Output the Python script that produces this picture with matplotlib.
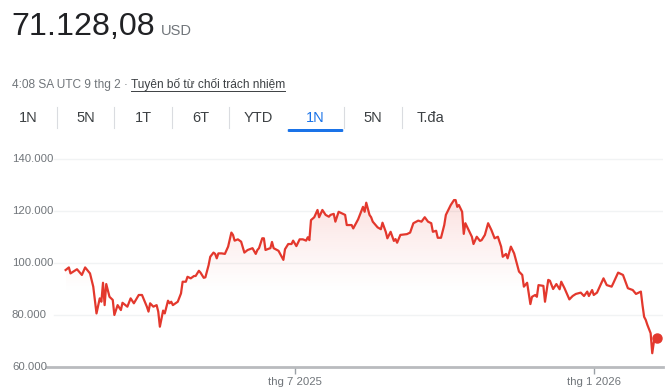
"""
Biểu đồ giá 1 năm (kiểu Google Finance) bằng matplotlib
"""

import matplotlib
matplotlib.use("Agg")
import matplotlib.pyplot as plt
import matplotlib.dates as mdates
import matplotlib.transforms as mtransforms
from matplotlib.patches import FancyBboxPatch
import numpy as np
import pandas as pd

plt.rcParams['font.family'] = ['Liberation Sans', 'DejaVu Sans']

# ---- dữ liệu ----
price_label = "71.128,08"
currency = "USD"
timestamp = "4:08 SA UTC 9 thg 2 · "
disclaimer = "Tuyên bố từ chối trách nhiệm"
tabs = ["1N", "5N", "1T", "6T", "YTD", "1N", "5N", "T.đa"]
active_tab = 5

dates = [
    "2025-02-10", "2025-02-12", "2025-02-13", "2025-02-17", "2025-02-20", "2025-02-22",
    "2025-02-25", "2025-02-27", "2025-03-01", "2025-03-03", "2025-03-04", "2025-03-05",
    "2025-03-06", "2025-03-07", "2025-03-09", "2025-03-11", "2025-03-12", "2025-03-14",
    "2025-03-16", "2025-03-17", "2025-03-20", "2025-03-22", "2025-03-24", "2025-03-27",
    "2025-03-29", "2025-04-01", "2025-04-02", "2025-04-03", "2025-04-05", "2025-04-07",
    "2025-04-08", "2025-04-09", "2025-04-11", "2025-04-12", "2025-04-14", "2025-04-15",
    "2025-04-16", "2025-04-17", "2025-04-20", "2025-04-22", "2025-04-23", "2025-04-25",
    "2025-04-26", "2025-04-28", "2025-04-30", "2025-05-01", "2025-05-03", "2025-05-04",
    "2025-05-06", "2025-05-07", "2025-05-09", "2025-05-10", "2025-05-12", "2025-05-13",
    "2025-05-14", "2025-05-15", "2025-05-17", "2025-05-19", "2025-05-21", "2025-05-23",
    "2025-05-24", "2025-05-25", "2025-05-27", "2025-05-29", "2025-05-31", "2025-06-02",
    "2025-06-05", "2025-06-07", "2025-06-08", "2025-06-09", "2025-06-11", "2025-06-12",
    "2025-06-13", "2025-06-15", "2025-06-16", "2025-06-17", "2025-06-18", "2025-06-21",
    "2025-06-24", "2025-06-25", "2025-06-27", "2025-06-29", "2025-06-30", "2025-07-02",
    "2025-07-04", "2025-07-06", "2025-07-08", "2025-07-09", "2025-07-10", "2025-07-11",
    "2025-07-13", "2025-07-15", "2025-07-16", "2025-07-18", "2025-07-20", "2025-07-22",
    "2025-07-23", "2025-07-25", "2025-07-26", "2025-07-28", "2025-08-01", "2025-08-02",
    "2025-08-05", "2025-08-06", "2025-08-09", "2025-08-12", "2025-08-13", "2025-08-14",
    "2025-08-16", "2025-08-17", "2025-08-18", "2025-08-21", "2025-08-23", "2025-08-24",
    "2025-08-26", "2025-08-27", "2025-08-29", "2025-08-31", "2025-09-01", "2025-09-02",
    "2025-09-04", "2025-09-08", "2025-09-10", "2025-09-12", "2025-09-15", "2025-09-17",
    "2025-09-19", "2025-09-21", "2025-09-23", "2025-09-24", "2025-09-26", "2025-09-27",
    "2025-09-29", "2025-10-01", "2025-10-02", "2025-10-05", "2025-10-07", "2025-10-08",
    "2025-10-09", "2025-10-10", "2025-10-12", "2025-10-13", "2025-10-14", "2025-10-16",
    "2025-10-18", "2025-10-19", "2025-10-21", "2025-10-23", "2025-10-24", "2025-10-26",
    "2025-10-28", "2025-10-30", "2025-11-01", "2025-11-03", "2025-11-05", "2025-11-06",
    "2025-11-08", "2025-11-09", "2025-11-11", "2025-11-13", "2025-11-16", "2025-11-18",
    "2025-11-19", "2025-11-21", "2025-11-23", "2025-11-24", "2025-11-26", "2025-11-27",
    "2025-11-28", "2025-12-01", "2025-12-02", "2025-12-04", "2025-12-05", "2025-12-07",
    "2025-12-09", "2025-12-11", "2025-12-12", "2025-12-14", "2025-12-17", "2025-12-19",
    "2025-12-21", "2025-12-24", "2025-12-26", "2025-12-28", "2025-12-29", "2025-12-31",
    "2026-01-01", "2026-01-03", "2026-01-07", "2026-01-09", "2026-01-12", "2026-01-13",
    "2026-01-16", "2026-01-19", "2026-01-22", "2026-01-25", "2026-01-27", "2026-01-30",
    "2026-01-31", "2026-02-01", "2026-02-02", "2026-02-03", "2026-02-05", "2026-02-06",
    "2026-02-07", "2026-02-09",
]

prices = [
    97300, 98300, 96000, 97600, 95400, 98300,
    96000, 90900, 80600, 86400, 85100, 92400,
    83800, 91900, 87000, 85800, 80000, 83800,
    81900, 84700, 83200, 86400, 84500, 87700,
    87700, 83200, 81300, 84500, 83200, 83800,
    81300, 75500, 81700, 80600, 85500, 84500,
    85100, 83800, 85100, 88300, 92800, 92800,
    94700, 94100, 95000, 95000, 97000, 96300,
    94300, 94500, 99200, 102400, 104000, 103500,
    101800, 103700, 103700, 103500, 106300, 111700,
    110800, 108600, 109100, 108200, 104000, 105000,
    105700, 103500, 105000, 105700, 109500, 109500,
    105000, 105500, 105700, 108100, 105700, 104700,
    101200, 105300, 107300, 107300, 108600, 106500,
    109100, 109100, 108600, 109900, 108800, 116500,
    117600, 120400, 117600, 120400, 118500, 117800,
    118500, 118900, 115900, 119700, 118500, 114600,
    114600, 113300, 116800, 121600, 119700, 123200,
    118500, 117600, 115900, 113700, 113000, 115500,
    112000, 109500, 112000, 108500, 109200, 107800,
    110800, 111100, 111700, 115300, 116300, 115900,
    117600, 115900, 115300, 112000, 112400, 109700,
    109700, 114600, 118500, 122300, 124200, 124200,
    121600, 122300, 119700, 111200, 115300, 112700,
    110100, 107300, 110100, 108500, 108800, 110800,
    115300, 112700, 109500, 110100, 106300, 102400,
    103500, 101800, 106300, 103700, 96700, 95400,
    90900, 92400, 84200, 87000, 87700, 87000,
    91500, 91200, 85100, 93500, 93200, 90000,
    91900, 89900, 92800, 90300, 86000, 87300,
    88100, 88600, 87300, 89000, 87300, 89600,
    87700, 88600, 94100, 91500, 90900, 92200,
    96300, 95400, 90300, 89600, 88100, 89000,
    83800, 79300, 78100, 76200, 73000, 65300,
    69700, 71128.08,
]

y_ticks = [60000, 80000, 100000, 120000, 140000]
y_tick_labels = ["60.000", "80.000", "100.000", "120.000", "140.000"]
x_ticks = ["2025-07-01", "2026-01-01"]
x_tick_labels = ["thg 7 2025", "thg 1 2026"]

RED = '#e3382d'
GREY = '#70757a'
DARK = '#202124'
BLUE = '#1a73e8'

W, H = 671, 389
fig = plt.figure(figsize=(W / 100, H / 100), dpi=100)
fig.patch.set_facecolor('white')


def fx(px):
    return px / W


def fy(py):
    return 1 - py / H


# ---- phần đầu trang ----
fig.text(fx(11), fy(35), price_label, fontsize=23.2, color=DARK, va='baseline')
fig.text(fx(161), fy(35), currency, fontsize=10.5, color=GREY, va='baseline')
r = fig.canvas.get_renderer()
t = fig.text(fx(12), fy(88), timestamp, fontsize=8.6, color=GREY, va='baseline')
bb = t.get_window_extent(renderer=r)
d = fig.text(bb.x1 / W, fy(88), disclaimer, fontsize=8.6, color='#3c4043',
             va='baseline')
# gạch chân
db = d.get_window_extent(renderer=r)
fig.add_artist(plt.Line2D([db.x0 / W, db.x1 / W], [fy(91), fy(91)],
                          color='#3c4043', lw=0.7, transform=fig.transFigure))

# ---- các tab ----
tab_w = 57.5
for i, lab in enumerate(tabs):
    cx = 28 + i * tab_w
    col = BLUE if i == active_tab else '#3c4043'
    fig.text(fx(cx), fy(118), lab, fontsize=10.5, color=col,
             ha='center', va='center')
    if i < len(tabs) - 1 and i != active_tab - 1:
        sx = 28 + (i + 0.5) * tab_w
        fig.add_artist(plt.Line2D([fx(sx), fx(sx)], [fy(107), fy(128)],
                                  color='#dadce0', lw=0.8,
                                  transform=fig.transFigure))
    if i == active_tab:
        x0 = 28 + (i - 0.5) * tab_w + 1
        fig.add_artist(FancyBboxPatch((fx(x0), fy(132)), fx(tab_w - 2), 3 / H,
                                      boxstyle="round,pad=0,rounding_size=0.002",
                                      fc=BLUE, ec='none',
                                      transform=fig.transFigure))

# ---- biểu đồ ----
x = pd.to_datetime(dates)
y = np.array(prices)

ax_left, ax_right = 47, 663
ax_top, ax_bot = 150, 367
ax = fig.add_axes([fx(ax_left), fy(ax_bot), fx(ax_right - ax_left),
                   (ax_bot - ax_top) / H])
ax.set_facecolor('none')

start = pd.Timestamp("2025-02-09")
px_per_day = 1.625
x0 = start + pd.Timedelta(days=(ax_left - 64) / px_per_day)
x1 = start + pd.Timedelta(days=(ax_right - 64) / px_per_day)
ymax = 60000 + (ax_bot - ax_top) / 2.6 * 1000

for s in ax.spines.values():
    s.set_visible(False)

# lưới ngang
for v in y_ticks[1:]:
    ax.axhline(v, xmin=(54 - ax_left) / (ax_right - ax_left), xmax=1,
               color='#f1f3f4', lw=1, zorder=0)
ax.axhline(60000, color='#b9bbbe', lw=2, zorder=3, clip_on=False)

# nhãn trục y
trans = mtransforms.blended_transform_factory(fig.transFigure, ax.transData)
for v, lab in zip(y_ticks, y_tick_labels):
    ax.text(fx(12), v, lab, transform=trans, fontsize=8.2, color=GREY,
            ha='left', va='center')

ax.set_yticks([])
ax.set_xticks(pd.to_datetime(x_ticks))
ax.set_xticklabels(x_tick_labels, fontsize=8.2, color=GREY)
ax.tick_params(axis='x', length=5, width=1, color='#9aa0a6', pad=2.5)

# tô chuyển màu dưới đường
xn = mdates.date2num(x)
poly = ax.fill_between(x, y, 60000, color='none', lw=0)
grad = np.linspace(60000, ymax, 300)
alpha = np.clip((grad - 88000) / (126000 - 88000), 0, 1) ** 1.2 * 0.17
rgba = np.zeros((300, 1, 4))
rgba[:, 0, :3] = matplotlib.colors.to_rgb('#e8453c')
rgba[:, 0, 3] = alpha
img = ax.imshow(rgba, aspect='auto', origin='lower',
                extent=[xn[0], xn[-1], 60000, ymax], zorder=1)
img.set_clip_path(poly.get_paths()[0], transform=ax.transData)

ax.plot(x, y, color=RED, lw=1.6, zorder=4, solid_joinstyle='round')
ax.plot(x[-1:], y[-1:], 'o', color=RED, ms=6.5, zorder=5, clip_on=False)

ax.set_xlim(x0, x1)
ax.set_ylim(60000, ymax)

fig.savefig("out.png", dpi=100)
